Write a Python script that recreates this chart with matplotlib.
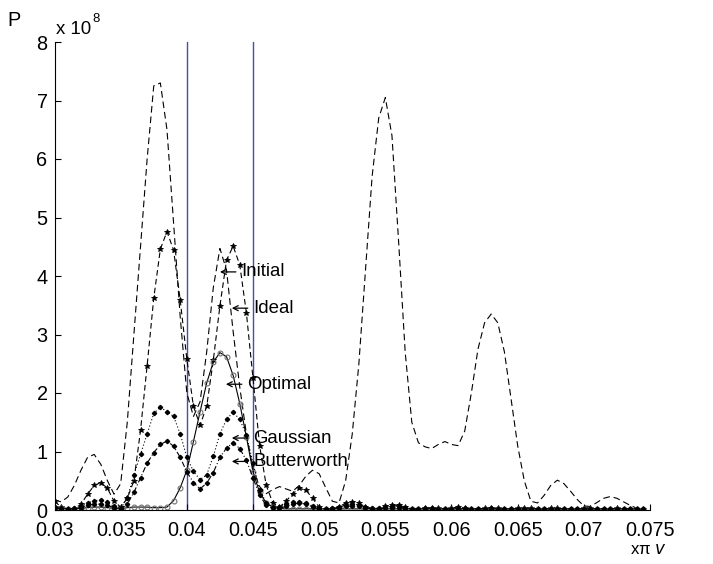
import numpy as np
import matplotlib
matplotlib.use("Agg")
import matplotlib.pyplot as plt

plt.rcParams['font.family'] = ['Liberation Sans', 'DejaVu Sans']

# frequency grid (x pi v), step 0.0005
v = np.round(np.arange(0.030, 0.07451, 0.0005), 4)

# spectra, units of 1e8
initial = [0.17, 0.14, 0.22, 0.42, 0.68, 0.90, 0.95, 0.78, 0.50, 0.27,
           0.45, 1.50, 3.00, 4.50, 6.00, 7.25, 7.30, 6.50, 4.90, 3.30,
           2.00, 1.60, 1.85, 2.70, 3.80, 4.47, 4.10, 3.05, 2.10, 1.30,
           0.70, 0.40, 0.28, 0.35, 0.40, 0.36, 0.32, 0.42, 0.58, 0.68,
           0.62, 0.38, 0.15, 0.12, 0.50, 1.30, 2.50, 4.10, 5.70, 6.70,
           7.05, 6.40, 4.60, 2.70, 1.50, 1.15, 1.08, 1.05, 1.12, 1.17,
           1.12, 1.10, 1.35, 2.00, 2.75, 3.20, 3.35, 3.20, 2.70, 1.90,
           1.10, 0.50, 0.15, 0.12, 0.25, 0.42, 0.51, 0.45, 0.32, 0.18,
           0.07, 0.06, 0.13, 0.20, 0.23, 0.20, 0.14, 0.08, 0.03, 0.01]

ideal = [0.15, 0.05, 0.02, 0.02, 0.10, 0.27, 0.42, 0.47, 0.37, 0.15,
         0.05, 0.20, 0.50, 1.36, 2.47, 3.62, 4.46, 4.76, 4.44, 3.59,
         2.58, 1.77, 1.45, 1.77, 2.56, 3.49, 4.27, 4.51, 4.19, 3.37,
         2.25, 1.10, 0.42, 0.12, 0.05, 0.15, 0.28, 0.37, 0.34, 0.20,
         0.05, 0.02, 0.02, 0.05, 0.12, 0.14, 0.12, 0.05, 0.02, 0.02,
         0.06, 0.08, 0.08, 0.05, 0.02, 0.02, 0.03, 0.04, 0.03, 0.02,
         0.03, 0.05, 0.04, 0.02, 0.02, 0.03, 0.04, 0.03, 0.02, 0.02,
         0.03, 0.04, 0.03, 0.02, 0.02, 0.03, 0.03, 0.02, 0.02, 0.02,
         0.03, 0.03, 0.02, 0.02, 0.02, 0.03, 0.02, 0.02, 0.02, 0.02]

optimal = [0.03, 0.03, 0.02, 0.02, 0.03, 0.04, 0.05, 0.05, 0.04, 0.03,
           0.02, 0.04, 0.05, 0.05, 0.05, 0.04, 0.04, 0.05, 0.16, 0.38,
           0.68, 1.17, 1.68, 2.17, 2.53, 2.69, 2.62, 2.30, 1.82, 1.25,
           0.65, 0.30, 0.12, 0.05, 0.03, 0.02, 0.02, 0.02, 0.02, 0.02,
           0.02, 0.02, 0.02, 0.02, 0.02, 0.02, 0.02, 0.02, 0.02, 0.02,
           0.02, 0.02, 0.02, 0.02, 0.02, 0.02, 0.02, 0.02, 0.02, 0.02,
           0.02, 0.02, 0.02, 0.02, 0.02, 0.02, 0.02, 0.02, 0.02, 0.02,
           0.02, 0.02, 0.02, 0.02, 0.02, 0.02, 0.02, 0.02, 0.02, 0.02,
           0.02, 0.02, 0.02, 0.02, 0.02, 0.02, 0.02, 0.02, 0.02, 0.02]

gaussian = [0.05, 0.03, 0.02, 0.03, 0.06, 0.12, 0.16, 0.17, 0.13, 0.06,
            0.03, 0.20, 0.60, 0.95, 1.30, 1.65, 1.76, 1.68, 1.60, 1.30,
            0.90, 0.66, 0.52, 0.60, 0.92, 1.30, 1.55, 1.67, 1.55, 1.28,
            0.80, 0.35, 0.12, 0.05, 0.05, 0.10, 0.13, 0.14, 0.12, 0.07,
            0.03, 0.02, 0.03, 0.05, 0.09, 0.10, 0.09, 0.05, 0.03, 0.03,
            0.05, 0.06, 0.06, 0.04, 0.02, 0.02, 0.03, 0.03, 0.02, 0.02,
            0.02, 0.03, 0.03, 0.02, 0.02, 0.02, 0.03, 0.02, 0.02, 0.02,
            0.02, 0.02, 0.02, 0.02, 0.02, 0.02, 0.02, 0.02, 0.02, 0.02,
            0.02, 0.02, 0.02, 0.02, 0.02, 0.02, 0.02, 0.02, 0.02, 0.02]

butterworth = [0.03, 0.02, 0.02, 0.02, 0.04, 0.08, 0.10, 0.10, 0.08, 0.04,
               0.02, 0.10, 0.30, 0.55, 0.80, 0.98, 1.12, 1.18, 1.09, 0.90,
               0.65, 0.47, 0.36, 0.46, 0.64, 0.90, 1.06, 1.15, 1.05, 0.85,
               0.55, 0.25, 0.08, 0.03, 0.03, 0.06, 0.10, 0.12, 0.10, 0.05,
               0.02, 0.02, 0.02, 0.04, 0.06, 0.07, 0.06, 0.04, 0.02, 0.02,
               0.03, 0.04, 0.04, 0.03, 0.02, 0.02, 0.02, 0.02, 0.02, 0.02,
               0.02, 0.02, 0.02, 0.02, 0.02, 0.02, 0.02, 0.02, 0.02, 0.02,
               0.02, 0.02, 0.02, 0.02, 0.02, 0.02, 0.02, 0.02, 0.02, 0.02,
               0.02, 0.02, 0.02, 0.02, 0.02, 0.02, 0.02, 0.02, 0.02, 0.02]

band = [0.04, 0.045]
xticks = [0.03, 0.035, 0.04, 0.045, 0.05, 0.055, 0.06, 0.065, 0.07, 0.075]
xtick_labels = ['0.03', '0.035', '0.04', '0.045', '0.05', '0.055',
                '0.06', '0.065', '0.07', '0.075']
yticks = [0, 1, 2, 3, 4, 5, 6, 7, 8]

# label text and where its arrow points (data coords)
notes = [('Initial', 0.0425, 4.07),
         ('Ideal', 0.0434, 3.45),
         ('Optimal', 0.04295, 2.15),
         ('Gaussian', 0.0434, 1.23),
         ('Butterworth', 0.0434, 0.83)]

fs = 13.4
tick_fs = 14.3

fig = plt.figure(figsize=(7.13, 5.64), dpi=100)
ax = fig.add_axes([54.5 / 713, 54 / 564, (650 - 54.5) / 713, (510 - 42) / 564])

for b in band:
    ax.axvline(b, color='#4b4bab', lw=1.0, zorder=1)

ax.plot(v, initial, color='k', ls=(0, (6, 3.5)), lw=0.8)
ax.plot(v, ideal, color='k', ls=(0, (5, 3)), lw=0.8, marker='*',
        ms=4, mew=0.6)
ax.plot(v, optimal, color='k', ls='-', lw=0.8, marker='o', ms=3.5,
        mfc='none', mec='#707070', mew=0.8)
ax.plot(v, gaussian, color='k', ls=(0, (1, 2)), lw=0.8, marker='D',
        ms=2.2)
ax.plot(v, butterworth, color='k', ls=(0, (5, 2, 1, 2)), lw=0.8,
        marker='D', ms=2.2)

# arrow (about 16 px long) then the label, like MATLAB's \leftarrow text
for name, x0, y0 in notes:
    ax.annotate('', xy=(x0, y0), xytext=(11.5, 0), textcoords='offset points',
                arrowprops=dict(arrowstyle='->', lw=0.9, color='k',
                                shrinkA=0, shrinkB=0,
                                mutation_scale=9))
    ax.annotate(name, xy=(x0, y0), xytext=(15.5, 0),
                textcoords='offset points', fontsize=fs,
                ha='left', va='center')

ax.set_xlim(0.03, 0.075)
ax.set_ylim(0, 8)
ax.set_xticks(xticks)
ax.set_xticklabels(xtick_labels)
ax.set_yticks(yticks)
ax.tick_params(direction='in', length=4, width=0.8, labelsize=tick_fs)
ax.tick_params(axis='x', pad=8)
ax.tick_params(axis='y', pad=5)
ax.spines['top'].set_visible(False)
ax.spines['right'].set_visible(False)
for s in ['left', 'bottom']:
    ax.spines[s].set_linewidth(0.8)

fig.text(14 / 713, 1 - 20 / 564, 'P', fontsize=tick_fs, ha='center', va='center')
fig.text(56 / 713, 1 - 29 / 564, 'x 10', fontsize=fs, ha='left', va='center')
fig.text(92 / 713, 1 - 19 / 564, '8', fontsize=fs * 0.7, ha='left', va='center')
fig.text(648 / 713, 1 - 549 / 564, 'x\u03c0 $v$', fontsize=fs * 0.9,
         ha='center', va='center')

fig.savefig('out.png', dpi=100)
